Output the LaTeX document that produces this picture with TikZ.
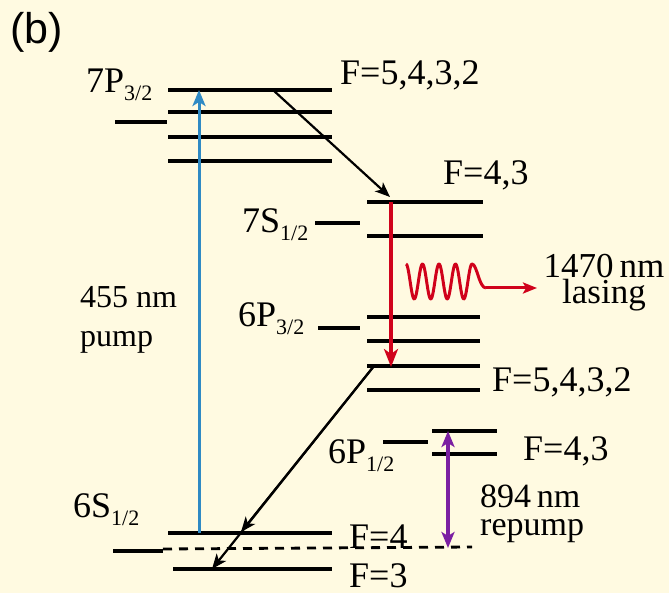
\documentclass[tikz,border=0pt]{standalone}
\usepackage{fontspec}
\setmainfont{Liberation Serif}
\newfontfamily\panelfont{Liberation Sans}
\usetikzlibrary{arrows.meta}
\definecolor{bgc}{HTML}{FFFAE1}
\definecolor{pumpblue}{HTML}{2F8AC4}
\definecolor{lasred}{HTML}{D0021B}
\definecolor{reppurple}{HTML}{7B1FA2}
\newcommand{\lvlname}[2]{{\fontsize{36}{36}\selectfont #1}\raisebox{-8pt}{\fontsize{22}{22}\selectfont #2}}
\begin{document}
\begin{tikzpicture}[x=1pt,y=-1pt,
  level/.style={line width=3.2pt},
  txt/.style={inner sep=0pt, anchor=base west, font=\fontsize{36}{36}\selectfont},
  decay/.style={line width=2.2pt, -{Stealth[length=15pt,width=12pt,inset=4pt]}},
  pumparrow/.style={pumpblue, line width=3pt, -{Stealth[length=16pt,width=13pt,inset=4pt]}},
  laserarrow/.style={lasred, line width=3.2pt, -{Stealth[length=18pt,width=14pt,inset=5pt]}},
  reparrow/.style={reppurple, line width=3.2pt, {Stealth[length=16pt,width=13pt,inset=4pt]}-{Stealth[length=16pt,width=13pt,inset=4pt]}},
  ]
\fill[bgc] (0,0) rectangle (669,593);
\useasboundingbox (0,0) rectangle (669,593);

% panel label
\node[inner sep=0pt, anchor=base west, font=\panelfont\fontsize{43}{43}\selectfont] (panel) at (10,44) {(b)};

% ---- 7P3/2 ----
\draw[level] (115,122) -- (167,122);
\draw[level] (168,90) -- (332,90);
\draw[level] (168,112) -- (332,112);
\draw[level] (168,137) -- (332,137);
\draw[level] (168,161) -- (332,161);
\node[txt] (l7p) at (86,93) {\lvlname{7P}{3/2}};
\node[txt] (f7p) at (340,85) {F=5,4,3,2};

% ---- 7S1/2 ----
\draw[level] (315,223) -- (360,223);
\draw[level] (367,202) -- (483,202);
\draw[level] (367,236) -- (483,236);
\node[txt] (l7s) at (242,233) {\lvlname{7S}{1/2}};
\node[txt] (f7s) at (443,185) {F=4,3};

% ---- 6P3/2 ----
\draw[level] (318,328) -- (360,328);
\draw[level] (367,317) -- (480,317);
\draw[level] (367,341) -- (480,341);
\draw[level] (367,366) -- (480,366);
\draw[level] (367,390) -- (480,390);
\node[txt] (l6p3) at (238,327) {\lvlname{6P}{3/2}};
\node[txt] (f6p3) at (492,391) {F=5,4,3,2};

% ---- 6P1/2 ----
\draw[level] (383,442) -- (428,442);
\draw[level] (432,431) -- (497,431);
\draw[level] (432,454) -- (497,454);
\node[txt] (l6p1) at (328,463) {\lvlname{6P}{1/2}};
\node[txt] (f6p1) at (523,460) {F=4,3};

% ---- 6S1/2 ----
\draw[level] (113,551) -- (163,551);
\draw[line width=2.8pt, dash pattern=on 9pt off 7pt] (163,549) -- (472,547);
\draw[level] (168,533) -- (332,533);
\draw[level] (173,569) -- (332,569);
\node[txt] (l6s) at (73,517) {\lvlname{6S}{1/2}};
\node[txt] (f6s4) at (349,548) {F=4};
\node[txt] (f6s3) at (349,587) {F=3};

% ---- arrow end points ----
\coordinate (pumpS) at (199,533);
\coordinate (pumpE) at (199,90);
\coordinate (d1S) at (273,90);
\coordinate (d1E) at (390,197);
\coordinate (lasS) at (391,202);
\coordinate (lasE) at (391,367);
\coordinate (d2S) at (374,366);
\coordinate (d2E) at (241,532);
\coordinate (d3E) at (212,569);
\coordinate (repT) at (448,431);
\coordinate (repB) at (448,548);
\coordinate (emitE) at (537,288);

% arrows
\draw[pumparrow] (pumpS) -- (pumpE);
\draw[decay] (d1S) -- (d1E);
\draw[laserarrow] (lasS) -- (lasE);
\draw[decay] (d2S) -- (d2E);
\draw[decay] (d2S) -- (d3E);
\draw[reparrow] (repT) -- (repB);

% emitted photon
\draw[lasred, line width=3pt, line join=round]
  plot[domain=0:66, samples=120] ({406+\x},{281.5-17.5*cos(\x*21.818)})
  .. controls (477,264) and (479,288) .. (486,288);
\coordinate (emitS) at (486,288);
\draw[lasred, line width=3pt, -{Stealth[length=14pt,width=11pt,inset=3pt]}] (emitS) -- (emitE);

% wavelength labels (anchor = baseline of the last line)
\node[inner sep=0pt, anchor=base, align=center, font=\fontsize{35}{26}\selectfont] (las) at (604,304) {1470\,nm\\lasing};
\node[inner sep=0pt, anchor=base west, align=left, font=\fontsize{32}{39}\selectfont] (pump) at (80,347) {455 nm\\pump};
\node[inner sep=0pt, anchor=base west, align=left, font=\fontsize{34}{28}\selectfont] (rep) at (480,535) {894\,nm\\repump};
\end{tikzpicture}
\end{document}
